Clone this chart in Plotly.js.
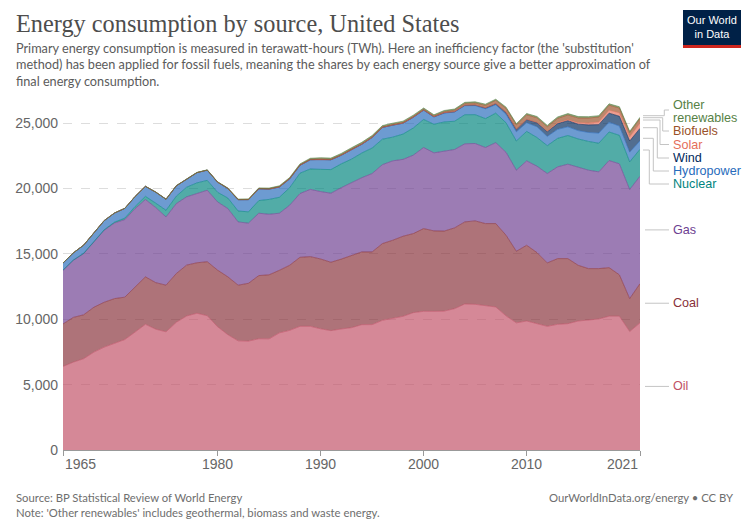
<!DOCTYPE html>
<html>
<head>
<meta charset="utf-8">
<script src="https://cdn.plot.ly/plotly-3.0.1.min.js"></script>
<style>
  html, body { margin: 0; padding: 0; background: #fff; }
  #chart { width: 750px; height: 530px; }
</style>
</head>
<body>
<div id="chart"></div>
<script>
// ---------------- DATA (TWh, substitution method) ----------------
const years = [1965,1966,1967,1968,1969,1970,1971,1972,1973,1974,1975,1976,1977,1978,1979,
  1980,1981,1982,1983,1984,1985,1986,1987,1988,1989,1990,1991,1992,1993,1994,1995,1996,1997,
  1998,1999,2000,2001,2002,2003,2004,2005,2006,2007,2008,2009,2010,2011,2012,2013,2014,2015,
  2016,2017,2018,2019,2020,2021];

const oil = [6390,6720,6980,7490,7870,8180,8450,9025,9615,9240,9040,9770,10250,10460,10270,
  9430,8820,8350,8330,8510,8500,8960,9150,9460,9460,9270,9130,9255,9357,9587,9590,9919,10046,
  10225,10506,10608,10606,10625,10811,11170,11143,11067,10939,10260,9725,9867,9663,9459,9612,
  9663,9867,9945,10020,10237,10237,9063,9727];

const coal = [3250,3420,3360,3430,3430,3400,3240,3425,3630,3560,3565,3730,3890,3860,4130,
  4330,4425,4255,4420,4830,4900,4785,4980,5280,5330,5340,5230,5345,5493,5563,5560,5869,5997,
  6125,6048,6328,6152,6120,6176,6277,6380,6252,6380,6166,5476,5793,5436,4849,5028,4977,4262,
  3928,3853,3713,3163,2514,3000];

const gas = [4105,4370,4680,4992,5507,5786,5935,6017,5912,5744,5221,5350,5220,5297,5470,
  5214,5222,4838,4600,4770,4633,4365,4592,4877,5145,5158,5280,5460,5595,5678,5997,6035,6074,
  5880,5997,6202,5971,6137,5998,5973,5921,5819,6189,6344,6201,6457,6609,6839,7017,7221,7477,
  7529,7402,8190,8490,8345,8216];

const nuclear = [12,18,24,38,41,65,112,159,245,336,510,563,740,814,752,
  740,805,835,867,968,1133,1221,1342,1555,1560,1700,1808,1826,1800,1888,1950,1950,1812,
  1935,2080,2145,2185,2210,2160,2225,2205,2210,2260,2255,2235,2250,2195,2130,2180,2195,2185,
  2200,2190,2185,2180,2120,2060];

const hydro = [543,546,622,622,700,694,745,764,762,843,840,795,616,784,784,
  773,731,865,930,899,787,783,675,602,702,754,744,650,723,660,798,892,913,
  827,814,705,556,676,705,689,694,751,640,658,705,663,824,707,689,663,640,
  684,772,749,705,741,647];

const wind = [0,0,0,0,0,0,0,0,0,0,0,0,0,0,0,
  0,0,0,0.1,0.5,1,2,3,4,6,8,8,8,8,9,9,9,9,
  8,12,15,18,28,30,38,47,70,90,145,195,250,315,370,440,470,490,
  580,650,690,750,850,950];

const solar = [0,0,0,0,0,0,0,0,0,0,0,0,0,0,0,
  0,0,0,0.5,0.5,0.6,0.6,0.7,0.8,0.8,1,1,1,1,1,1,1,1,
  1,1,1,1.2,1.4,1.5,1.6,1.7,2,2.5,4,5,10,18,33,55,80,110,
  145,200,230,260,320,400];

const biofuels = [0,0,0,0,0,0,0,0,0,0,0,0,0,0,0,
  5,10,15,20,25,30,35,38,38,35,38,40,45,50,55,60,45,55,
  60,62,65,70,85,110,130,150,190,240,300,320,350,350,340,345,355,365,
  380,380,380,370,320,350];

const otherRenewables = [4,5,5,6,7,8,9,11,14,16,18,20,22,22,24,
  26,30,34,40,45,50,55,60,66,75,82,85,90,92,94,90,92,92,
  90,90,90,82,86,86,88,88,90,90,92,94,96,98,100,104,106,106,
  104,104,104,100,96,95];

const seriesNames = ["Oil","Coal","Gas","Nuclear","Hydropower","Wind","Solar","Biofuels","Other renewables"];
const seriesValues = [oil, coal, gas, nuclear, hydro, wind, solar, biofuels, otherRenewables];
const seriesColors = ["#C15065","#883039","#6D3E91","#00847E","#286BBB","#00295B","#E56E5A","#9A5129","#578145"];

const xTickVals = [1965,1980,1990,2000,2010,2021];
const yTickVals = [0,5000,10000,15000,20000,25000];
const yTickText = ["0","5,000","10,000","15,000","20,000","25,000"];

// ---------------- STYLE / LAYOUT ----------------
function rgba(hex, a) {
  const r = parseInt(hex.slice(1,3),16), g = parseInt(hex.slice(3,5),16), b = parseInt(hex.slice(5,7),16);
  return `rgba(${r},${g},${b},${a})`;
}

const M = {l: 63, r: 110, t: 97, b: 80};
const W = 750, H = 530;
const plotW = W - M.l - M.r, plotH = H - M.t - M.b;
const px = p => (p - M.l) / plotW;          // pixel x -> paper x
const py = p => (H - M.b - p) / plotH;      // pixel y -> paper y

const traces = seriesNames.map((name, i) => ({
  type: "scatter",
  mode: "lines",
  name: name,
  x: years,
  y: seriesValues[i],
  stackgroup: "one",
  line: {color: rgba(seriesColors[i], 0.85), width: 0.7},
  fillcolor: rgba(seriesColors[i], 0.68),
  hoverinfo: "skip"
}));

const sans = "'Liberation Sans', Arial, sans-serif";
const lato = "Lato, 'Liberation Sans', Arial, sans-serif";
const gray = "#5b5b5b";
const tickGray = "#666666";

// Right-side labels
const labelX = 672;
const smallLabels = [
  {i: 8, text: "Other",      y: 105,   lead: 110,   start: 115.7, elbow: 664.3},
  {i: 8, text: "renewables", y: 118,   lead: null},
  {i: 7, text: "Biofuels",   y: 131,   lead: 131,   start: 117.7, elbow: 662.7},
  {i: 6, text: "Solar",      y: 144.5, lead: 144.5, start: 120.0, elbow: 660.0},
  {i: 5, text: "Wind",       y: 158,   lead: 158,   start: 127.7, elbow: 657.3},
  {i: 4, text: "Hydropower", y: 171,   lead: 171,   start: 138.3, elbow: 653.3},
  {i: 3, text: "Nuclear",    y: 184,   lead: 184,   start: 150.0, elbow: 649.3}
];

const annotations = [];
const shapes = [];
const leaderColor = "#c4c4c4";

smallLabels.forEach(l => {
  annotations.push({
    xref: "paper", yref: "paper", x: px(labelX), y: py(l.y),
    xanchor: "left", yanchor: "middle", showarrow: false, align: "left", borderpad: 0,
    text: l.text, font: {family: sans, size: 12.6, color: seriesColors[l.i]}
  });
  if (l.lead !== null) {
    shapes.push({
      type: "path", xref: "paper", yref: "paper",
      path: `M ${px(643)} ${py(l.start)} L ${px(l.elbow)} ${py(l.start)} L ${px(l.elbow)} ${py(l.lead)} L ${px(669)} ${py(l.lead)}`,
      line: {color: leaderColor, width: 1}
    });
  }
});

// Big bands: label at the middle of the band at the last year
const last = years.length - 1;
let cum = 0;
const mids = [];
for (let i = 0; i < 3; i++) {
  const v = seriesValues[i][last];
  mids.push(cum + v / 2);
  cum += v;
}
[0,1,2].forEach(i => {
  annotations.push({
    xref: "paper", yref: "y", x: px(labelX), y: mids[i],
    xanchor: "left", yanchor: "middle", showarrow: false, borderpad: 0,
    text: seriesNames[i], font: {family: sans, size: 12.6, color: seriesColors[i]}
  });
  shapes.push({
    type: "line", xref: "paper", yref: "y",
    x0: px(645), x1: px(669), y0: mids[i], y1: mids[i],
    line: {color: leaderColor, width: 1}
  });
});

// X tick labels (first left-aligned, last right-aligned, like the reference)
xTickVals.forEach((v, k) => {
  annotations.push({
    xref: "x", yref: "paper", x: v, y: py(464), yanchor: "middle",
    xanchor: k === 0 ? "left" : (k === xTickVals.length - 1 ? "right" : "center"),
    showarrow: false, text: String(v),
    font: {family: sans, size: 14, color: tickGray}
  });
});

// Title, subtitle, footer
annotations.push({
  xref: "paper", yref: "paper", x: px(14), y: py(23), xanchor: "left", yanchor: "middle",
  showarrow: false, text: "Energy consumption by source, United States",
  font: {family: "'Liberation Serif', 'DejaVu Serif', serif", size: 24.3, color: "#4d4d4d"}
});
const subLines = [
  "Primary energy consumption is measured in terawatt-hours (TWh). Here an inefficiency factor (the 'substitution'",
  "method) has been applied for fossil fuels, meaning the shares by each energy source give a better approximation of",
  "final energy consumption."
];
subLines.forEach((t, k) => annotations.push({
  xref: "paper", yref: "paper", x: px(14), y: py(47.5 + k * 16.5), xanchor: "left", yanchor: "middle",
  showarrow: false, text: t, font: {family: lato, size: 12.7, color: gray}
}));
annotations.push({
  xref: "paper", yref: "paper", x: px(14), y: py(497), xanchor: "left", yanchor: "middle",
  showarrow: false, text: "Source: BP Statistical Review of World Energy",
  font: {family: lato, size: 11.3, color: "#6e6e6e"}
});
annotations.push({
  xref: "paper", yref: "paper", x: px(14), y: py(512), xanchor: "left", yanchor: "middle",
  showarrow: false, text: "Note: 'Other renewables' includes geothermal, biomass and waste energy.",
  font: {family: lato, size: 11.3, color: "#6e6e6e"}
});
annotations.push({
  xref: "paper", yref: "paper", x: px(736), y: py(497), xanchor: "right", yanchor: "middle",
  showarrow: false, text: "OurWorldInData.org/energy • CC BY",
  font: {family: lato, size: 11.3, color: "#6e6e6e"}
});

// Logo
shapes.push({type: "rect", xref: "paper", yref: "paper", x0: px(683), x1: px(741), y0: py(48), y1: py(10),
  fillcolor: "#002147", line: {width: 0}, layer: "above"});
shapes.push({type: "rect", xref: "paper", yref: "paper", x0: px(683), x1: px(741), y0: py(48), y1: py(45),
  fillcolor: "#ce261e", line: {width: 0}, layer: "above"});
annotations.push({
  xref: "paper", yref: "paper", x: px(712), y: py(27.5), xanchor: "center", yanchor: "middle",
  showarrow: false, text: "Our World<br>in Data", borderpad: 0,
  font: {family: sans, size: 11, color: "#ffffff"}
});

const layout = {
  width: W, height: H,
  margin: M,
  paper_bgcolor: "#ffffff",
  plot_bgcolor: "#ffffff",
  showlegend: false,
  hovermode: false,
  xaxis: {
    range: [1965, 2021],
    tickvals: xTickVals,
    showticklabels: false,
    ticks: "outside", ticklen: 5, tickcolor: "#999",
    showgrid: false, zeroline: false,
    showline: true, linecolor: "#999", linewidth: 1
  },
  yaxis: {
    range: [0, 27000],
    tickvals: yTickVals,
    ticktext: yTickText,
    showgrid: true, gridcolor: "#dddddd", griddash: "dash", gridwidth: 1,
    zeroline: false, showline: false, ticks: "",
    ticklabelstandoff: 4,
    tickfont: {family: sans, size: 14, color: tickGray}
  },
  annotations: annotations,
  shapes: shapes
};

Plotly.newPlot("chart", traces, layout, {displayModeBar: false, staticPlot: true});
</script>
</body>
</html>
